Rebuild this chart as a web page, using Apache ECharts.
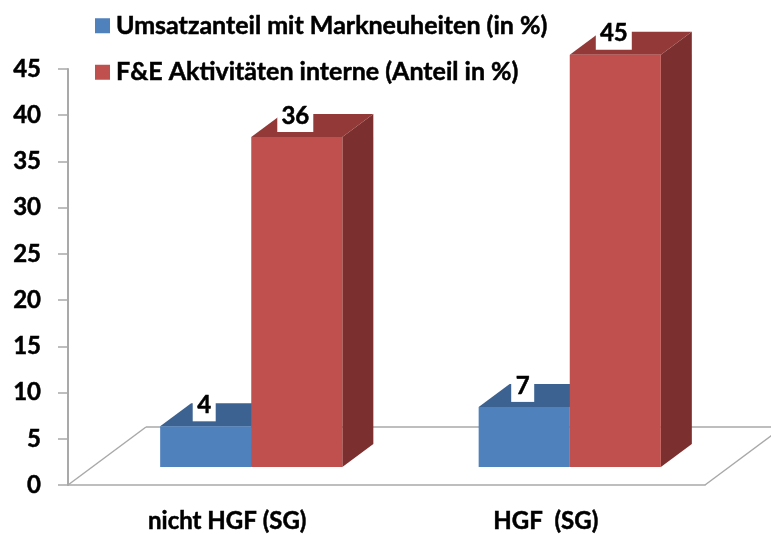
<!DOCTYPE html>
<html><head><meta charset="utf-8">
<style>html,body{margin:0;padding:0;background:#fff}#c{width:771px;height:534px}</style>
<script src="https://cdn.jsdelivr.net/npm/echarts@6/dist/echarts.min.js"></script>
</head><body><div id="c"></div>
<script>
const categories = ['nicht HGF (SG)', 'HGF  (SG)'];
const umsatzName = 'Umsatzanteil mit Markneuheiten (in %)';
const umsatzValues = [4.4, 6.5];
const feName = 'F&E Aktivitäten interne (Anteil in %)';
const feValues = [35.7, 44.6];
const yTicks = { min: 0, max: 45, interval: 5 };

const FONT = 'Lato, Carlito, sans-serif';
const DEPTH_X = 31, DEPTH_Y = 23, LIFT = 18, SHIFT = 24, BAR_SHARE = 0.286;
const AXIS = '#A9A9A9';
const HEAVY = { textBorderColor: '#000', textBorderWidth: 0.5 };

function barRenderer(seriesPos, front, top, side) {
  return function (params, api) {
    const i = api.value(0), v = api.value(1);
    const base = api.coord([i, 0]), tip = api.coord([i, v]);
    const w = api.size([1, 0])[0] * BAR_SHARE;
    const x0 = base[0] + SHIFT + (seriesPos === 0 ? -w : 0), x1 = x0 + w;
    const yb = base[1] - LIFT, yt = tip[1] - LIFT;
    const label = String(Math.round(v));
    const boxW = label.length > 1 ? 36 : 23;
    const lx = (x0 + x1) / 2 - 1.5;
    return {
      type: 'group',
      children: [
        { type: 'polygon', shape: { points: [[x1, yb], [x1 + DEPTH_X, yb - DEPTH_Y], [x1 + DEPTH_X, yt - DEPTH_Y], [x1, yt]] }, style: { fill: side } },
        { type: 'polygon', shape: { points: [[x0, yt], [x1, yt], [x1 + DEPTH_X, yt - DEPTH_Y], [x0 + DEPTH_X, yt - DEPTH_Y]] }, style: { fill: top } },
        { type: 'rect', shape: { x: x0, y: yt, width: w, height: yb - yt }, style: { fill: front } },
        { type: 'rect', shape: { x: lx - boxW / 2, y: yt - 40, width: boxW, height: 35 }, style: { fill: '#fff' } },
        { type: 'text', x: lx, y: yt - 21, style: { text: label, fill: '#000', stroke: '#000', lineWidth: 0.5, font: 'bold 24px ' + FONT, align: 'center', verticalAlign: 'middle' } }
      ]
    };
  };
}

function floorRenderer(params, api) {
  const cs = params.coordSys;
  const left = cs.x, right = cs.x + cs.width, bottom = cs.y + cs.height;
  const dx = 78, dy = 58;
  const line = (a, b) => ({ type: 'line', shape: { x1: a[0], y1: a[1], x2: b[0], y2: b[1] }, style: { stroke: AXIS, lineWidth: 1.5 } });
  return {
    type: 'group',
    children: [
      line([left, bottom], [left + dx, bottom - dy]),
      line([left + dx, bottom - dy], [right + dx, bottom - dy]),
      line([right, bottom], [right + dx, bottom - dy])
    ]
  };
}

const chart = echarts.init(document.getElementById('c'), null, { renderer: 'canvas' });
chart.setOption({
  animation: false,
  backgroundColor: '#fff',
  grid: { left: 68, right: 66, top: 69, bottom: 49, containLabel: false, outerBoundsMode: 'none' },
  legend: {
    orient: 'vertical', left: 90, top: 8, itemWidth: 15, itemHeight: 15, itemGap: 21,
    icon: 'rect', selectedMode: false,
    data: [umsatzName, feName],
    textStyle: Object.assign({ fontFamily: FONT, fontWeight: 'bold', fontSize: 25, lineHeight: 25, color: '#000', padding: [0, 0, 0, 1] }, HEAVY)
  },
  xAxis: {
    type: 'category', data: categories,
    axisLine: { lineStyle: { color: AXIS, width: 1.5 } },
    axisTick: { length: 9, lineStyle: { color: AXIS, width: 1.5 } },
    axisLabel: Object.assign({ margin: 24, fontFamily: FONT, fontWeight: 'bold', fontSize: 24, color: '#000' }, HEAVY)
  },
  yAxis: {
    type: 'value', min: yTicks.min, max: yTicks.max, interval: yTicks.interval,
    splitLine: { show: false },
    axisLine: { show: true, lineStyle: { color: AXIS, width: 2 } },
    axisTick: { show: true, length: 10, lineStyle: { color: AXIS, width: 1.5 } },
    axisLabel: Object.assign({ margin: 27, fontFamily: FONT, fontWeight: 'bold', fontSize: 24, color: '#000' }, HEAVY)
  },
  series: [
    { type: 'custom', name: 'Boden', silent: true, z: 1, clip: false, renderItem: floorRenderer, data: [[0, 0]], encode: { x: 0, y: 1 } },
    { type: 'custom', name: umsatzName, z: 2, clip: false, itemStyle: { color: '#4F81BD' },
      renderItem: barRenderer(0, '#4F81BD', '#3C6291', '#35587F'),
      data: umsatzValues.map((v, i) => [i, v]), encode: { x: 0, y: 1 } },
    { type: 'custom', name: feName, z: 3, clip: false, itemStyle: { color: '#C0504D' },
      renderItem: barRenderer(1, '#C0504D', '#933A38', '#7B2F2E'),
      data: feValues.map((v, i) => [i, v]), encode: { x: 0, y: 1 } }
  ]
});
</script></body></html>
